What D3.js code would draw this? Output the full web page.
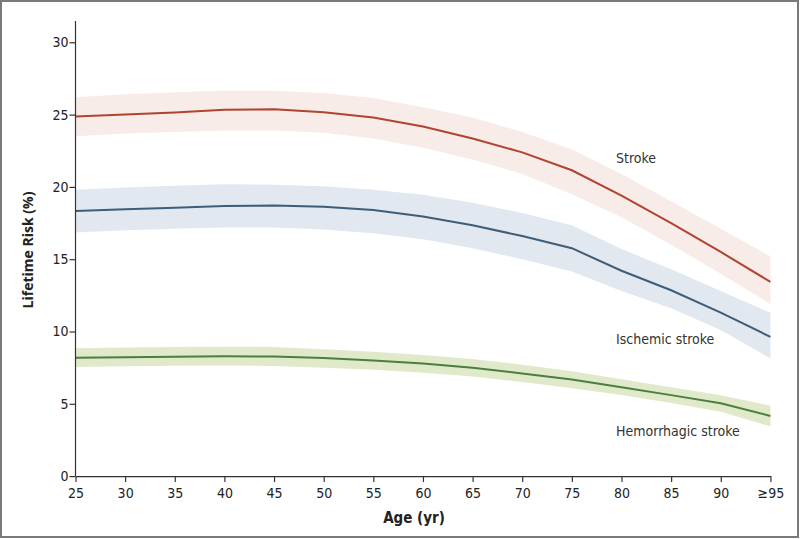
<!DOCTYPE html>
<html><head><meta charset="utf-8">
<script src="https://cdn.jsdelivr.net/npm/d3@7"></script>
<style>
html,body{margin:0;padding:0;background:#fff;}
svg{display:block;}
text{font-family:"Liberation Sans Narrow","DejaVu Sans Condensed","Open Sans",sans-serif;}
</style></head>
<body>
<svg id="chart" width="800" height="539"></svg>
<script>
const ages = [25,30,35,40,45,50,55,60,65,70,75,80,85,90,95];
const tickLabels = ["25","30","35","40","45","50","55","60","65","70","75","80","85","90","\u226595"];
const yTicks = [0,5,10,15,20,25,30];

const strokeMid   = [24.87,25.0,25.15,25.33,25.37,25.17,24.8,24.18,23.35,22.39,21.15,19.4,17.5,15.5,13.43];
const strokeUpper = [26.2,26.4,26.55,26.67,26.65,26.5,26.15,25.5,24.8,23.8,22.6,20.9,19.0,17.1,15.2];
const strokeLower = [23.5,23.7,23.8,23.9,23.9,23.75,23.35,22.7,21.9,20.9,19.5,17.9,16.0,14.0,11.9];

const ischMid   = [18.33,18.45,18.56,18.68,18.71,18.62,18.4,17.95,17.35,16.6,15.76,14.2,12.85,11.3,9.63];
const ischUpper = [19.8,19.95,20.08,20.18,20.15,20.05,19.8,19.45,18.9,18.2,17.35,15.7,14.3,12.8,11.3];
const ischLower = [16.85,17.0,17.1,17.2,17.2,17.05,16.8,16.38,15.75,15.0,14.15,12.8,11.6,10.1,8.13];

const hemMid   = [8.18,8.22,8.26,8.28,8.27,8.17,8.0,7.78,7.5,7.1,6.68,6.15,5.6,5.04,4.16];
const hemUpper = [8.85,8.9,8.93,8.95,8.93,8.78,8.6,8.38,8.1,7.7,7.25,6.7,6.15,5.59,4.87];
const hemLower = [7.54,7.6,7.63,7.65,7.62,7.5,7.35,7.15,6.88,6.5,6.08,5.6,5.05,4.45,3.44];

const seriesNames = ["Stroke","Ischemic stroke","Hemorrhagic stroke"];
const lineColors = ["#b2432f","#3e5d78","#4b7e3f"];
const bandColors = ["#f7ece8","#e1e8ef","#e0eacb"];

const svg = d3.select("#chart");
// frame
svg.append("rect").attr("x",1).attr("y",1).attr("width",797).attr("height",536)
  .attr("fill","none").attr("stroke","#7a7a7a").attr("stroke-width",2);

const x = d3.scaleLinear().domain([25,95]).range([75.5,770.4]);
const y = d3.scaleLinear().domain([0,30]).range([476.1,42.3]);

const series = [
  {mid:strokeMid, up:strokeUpper, lo:strokeLower},
  {mid:ischMid, up:ischUpper, lo:ischLower},
  {mid:hemMid, up:hemUpper, lo:hemLower}
];

const area = d3.area().x(d=>x(d.a)).y0(d=>y(d.lo)).y1(d=>y(d.up));
const line = d3.line().x(d=>x(d.a)).y(d=>y(d.v));

series.forEach((s,i)=>{
  const ad = ages.map((a,j)=>({a, lo:s.lo[j], up:s.up[j]}));
  svg.append("path").attr("d",area(ad)).attr("fill",bandColors[i]);
});
series.forEach((s,i)=>{
  const ld = ages.map((a,j)=>({a, v:s.mid[j]}));
  svg.append("path").attr("d",line(ld)).attr("fill","none")
    .attr("stroke",lineColors[i]).attr("stroke-width",2);
});

// axes
const xAxis = d3.axisBottom(x).tickValues(ages).tickFormat((d,i)=>tickLabels[i]).tickSize(6).tickSizeOuter(0);
const gx = svg.append("g").attr("transform","translate(0,476.1)").call(xAxis);
gx.select(".domain").attr("stroke","#333").attr("stroke-width",1.2);
gx.selectAll(".tick line").attr("stroke","#333").attr("stroke-width",1.2);
gx.selectAll("text").attr("font-size",14).attr("fill","#222").attr("dy","0.95em");

const yAxis = d3.axisLeft(y).tickValues(yTicks).tickSize(6).tickSizeOuter(0);
const gy = svg.append("g").attr("transform","translate(75.5,0)").call(yAxis);
gy.select(".domain").attr("d","M0,476.1V21").attr("stroke","#333").attr("stroke-width",1.2);
gy.selectAll(".tick line").attr("stroke","#333").attr("stroke-width",1.2);
gy.selectAll("text").attr("font-size",14).attr("fill","#222").attr("x",-7);

svg.append("text").attr("x",414).attr("y",523).attr("text-anchor","middle")
  .attr("font-size",15).attr("font-weight","bold").attr("fill","#222").text("Age (yr)");
svg.append("text").attr("transform","translate(33,250) rotate(-90)").attr("text-anchor","middle")
  .style("font-family","'Open Sans','DejaVu Sans',sans-serif")
  .attr("font-size",14).attr("font-weight","bold").attr("fill","#222").text("Lifetime Risk (%)");

const labelPos = [[616,163],[616,344],[616,436]];
seriesNames.forEach((n,i)=>{
  svg.append("text").attr("x",labelPos[i][0]).attr("y",labelPos[i][1])
    .attr("font-size",14).attr("fill","#333").text(n);
});
</script>
</body></html>
